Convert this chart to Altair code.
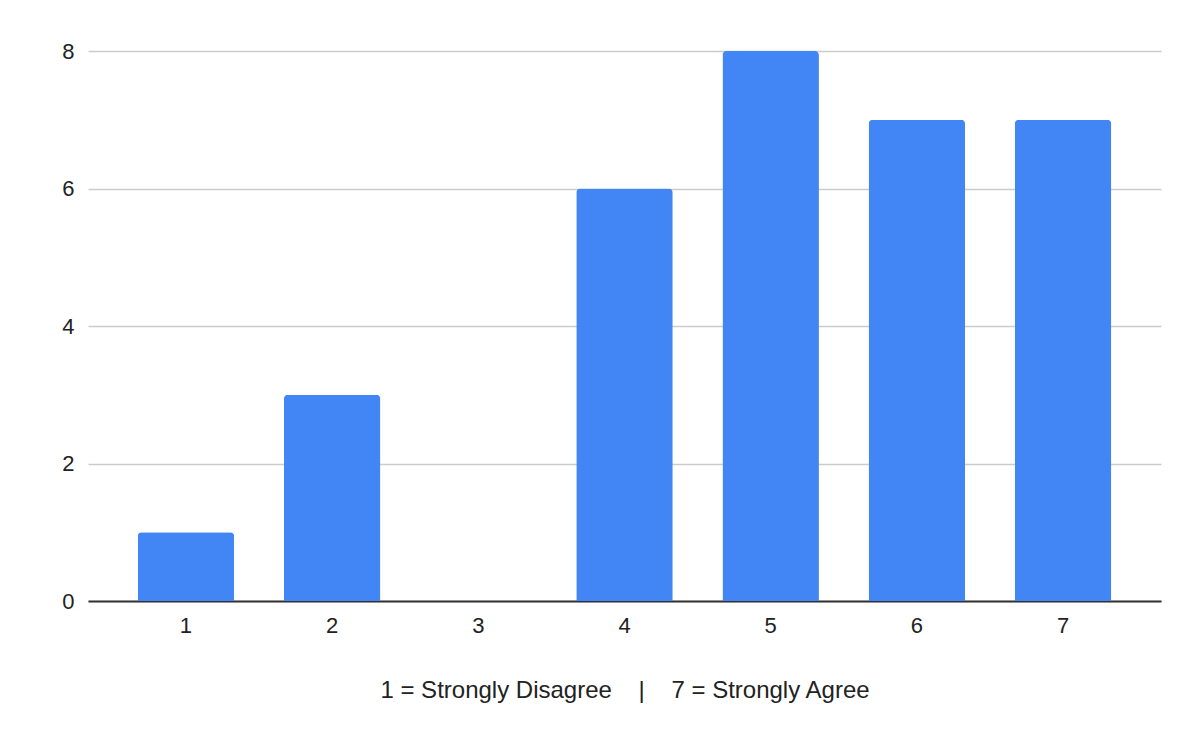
import altair as alt
import pandas as pd

categories = ["1", "2", "3", "4", "5", "6", "7"]
counts = [1, 3, 0, 6, 8, 7, 7]
y_ticks = [0, 2, 4, 6, 8]
x_title = "1 = Strongly Disagree\u00a0\u00a0\u00a0\u00a0|\u00a0\u00a0\u00a0\u00a07 = Strongly Agree"

df = pd.DataFrame({"rating": categories, "count": counts})

chart = (
    alt.Chart(df)
    .mark_bar(color="#4285F4", cornerRadiusTopLeft=4, cornerRadiusTopRight=4)
    .encode(
        x=alt.X(
            "rating:N",
            sort=categories,
            scale=alt.Scale(paddingInner=0.34, paddingOuter=0.34),
            axis=alt.Axis(
                title=x_title,
                labelAngle=0,
                ticks=False,
                domainColor="#333333",
                domainWidth=2,
                labelFontSize=22,
                labelColor="#222222",
                labelPadding=14,
                titleFontSize=24,
                titleFontWeight="normal",
                titleColor="#222222",
                titlePadding=42,
                grid=False,
            ),
        ),
        y=alt.Y(
            "count:Q",
            scale=alt.Scale(domain=[0, 8]),
            axis=alt.Axis(
                title=None,
                values=y_ticks,
                ticks=False,
                domain=False,
                labelFontSize=22,
                labelColor="#222222",
                labelPadding=14,
                gridColor="#cccccc",
                gridWidth=1.5,
            ),
        ),
    )
    .properties(
        width=1073,
        height=550,
        autosize=alt.AutoSizeParams(type="none"),
        padding={"left": 80, "top": 43, "right": 20, "bottom": 120},
    )
    .configure(font="Liberation Sans")
    .configure_view(strokeWidth=0)
)

chart.save("out.html", embed_options={"renderer": "svg", "actions": False})
